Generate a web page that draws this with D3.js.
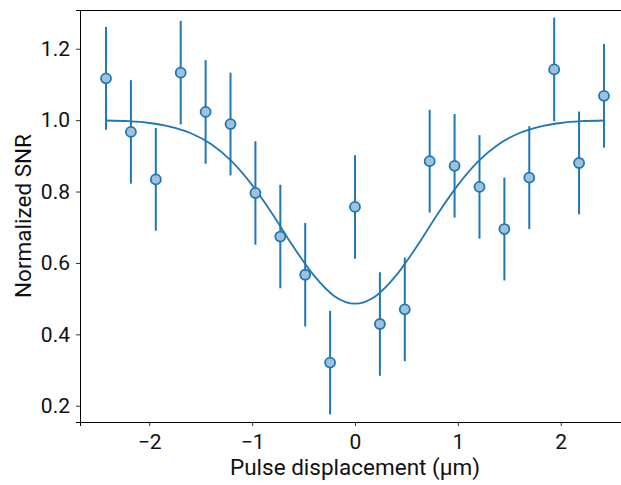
<!DOCTYPE html>
<html>
<head>
<meta charset="utf-8">
<script src="https://cdn.jsdelivr.net/npm/d3@7"></script>
<style>
  html, body { margin: 0; padding: 0; background: #fff; }
  svg { display: block; font-family: Roboto, "DejaVu Sans", sans-serif; }
</style>
</head>
<body>
<svg id="chart" width="621" height="485"></svg>
<script>
// Measured points
const xValues = [-2.42, -2.178, -1.936, -1.694, -1.452, -1.21, -0.968, -0.726, -0.484, -0.242, 0,
                 0.242, 0.484, 0.726, 0.968, 1.21, 1.452, 1.694, 1.936, 2.178, 2.42];
const snrValues = [1.117, 0.967, 0.834, 1.133, 1.023, 0.989, 0.796, 0.674, 0.567, 0.321, 0.757,
                   0.429, 0.470, 0.885, 0.872, 0.813, 0.695, 0.839, 1.142, 0.880, 1.068];
const snrErrors = [0.144, 0.145, 0.144, 0.145, 0.145, 0.144, 0.145, 0.145, 0.145, 0.145, 0.145,
                   0.145, 0.145, 0.144, 0.145, 0.145, 0.144, 0.144, 0.145, 0.144, 0.145];

// Fit curve
const fitX = [-2.42, -2.2, -2.0, -1.8, -1.6, -1.4, -1.2, -1.0, -0.8, -0.6, -0.4, -0.2, 0,
              0.2, 0.4, 0.6, 0.8, 1.0, 1.2, 1.4, 1.6, 1.8, 2.0, 2.2, 2.42];
const fitY = [0.999, 0.997, 0.992, 0.982, 0.964, 0.933, 0.885, 0.818, 0.736, 0.646, 0.565, 0.507, 0.486,
              0.507, 0.565, 0.646, 0.736, 0.818, 0.885, 0.933, 0.964, 0.982, 0.992, 0.997, 0.999];

const xTicks = [-2, -1, 0, 1, 2];
const yTicks = [0.2, 0.4, 0.6, 0.8, 1.0, 1.2];

const xLabel = "Pulse displacement (μm)";
const yLabel = "Normalized SNR";

(function () {
const svg = d3.select("#chart");
const mLeft = 80, mRight = 630, mTop = 10, mBottom = 422;
const color = "#1f77b4";

const x = d3.scaleLinear().domain([-2.673, 2.673]).range([mLeft, mRight]);
const y = d3.scaleLinear().domain([0.1545, 1.3085]).range([mBottom, mTop]);

const fmtX = d => (d < 0 ? "\u2212" + Math.abs(d) : String(d));

// Error bars
const pts = xValues.map((xv, i) => ({ x: xv, y: snrValues[i], e: snrErrors[i] }));
svg.append("g").selectAll("line").data(pts).join("line")
  .attr("x1", d => x(d.x)).attr("x2", d => x(d.x))
  .attr("y1", d => y(d.y - d.e)).attr("y2", d => y(d.y + d.e))
  .attr("stroke", color).attr("stroke-width", 2);

// Fit line
const line = d3.line().x(d => x(d[0])).y(d => y(d[1])).curve(d3.curveMonotoneX);
svg.append("path").datum(fitX.map((v, i) => [v, fitY[i]]))
  .attr("d", line).attr("fill", "none").attr("stroke", color).attr("stroke-width", 1.8);

// Markers
svg.append("g").selectAll("circle").data(pts).join("circle")
  .attr("cx", d => x(d.x)).attr("cy", d => y(d.y)).attr("r", 5)
  .attr("fill", "#a0c1dc").attr("stroke", color).attr("stroke-width", 1.8);

// Axes
const xAxis = svg.append("g").attr("transform", `translate(0,${mBottom})`)
  .call(d3.axisBottom(x).tickValues(xTicks).tickFormat(fmtX).tickSizeOuter(0).tickSize(4).tickPadding(8));
const yAxis = svg.append("g").attr("transform", `translate(${mLeft},0)`)
  .call(d3.axisLeft(y).tickValues(yTicks).tickFormat(d3.format(".1f")).tickSizeOuter(0).tickSize(4).tickPadding(6));
[xAxis, yAxis].forEach(a => {
  a.select(".domain").attr("stroke", "#000").attr("stroke-width", 1);
  a.selectAll(".tick line").attr("stroke", "#333").attr("stroke-width", 1);
  a.selectAll(".tick text").attr("fill", "#111").style("font-size", "21px").style("font-family", "Roboto, sans-serif");
});

// Top spine
svg.append("line").attr("x1", mLeft).attr("x2", mRight).attr("y1", mTop + 0.5).attr("y2", mTop + 0.5)
  .attr("stroke", "#000").attr("stroke-width", 1);

// Labels
svg.append("text").attr("x", (mLeft + mRight) / 2).attr("y", 475).attr("text-anchor", "middle")
  .style("font-size", "22.5px").attr("fill", "#111").text(xLabel);
svg.append("text").attr("transform", `translate(31,${(mTop + mBottom) / 2}) rotate(-90)`)
  .attr("text-anchor", "middle").style("font-size", "22.5px").attr("fill", "#111").text(yLabel);
})();
</script>
</body>
</html>
